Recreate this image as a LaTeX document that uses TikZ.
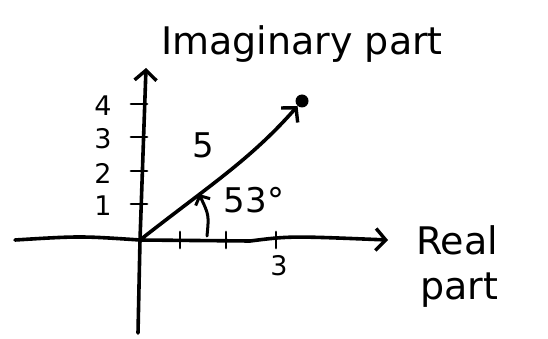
\documentclass[tikz,border=0pt]{standalone}
\usepackage{fontspec}
\setmainfont{DejaVu Sans}
\usetikzlibrary{arrows.meta}
\begin{document}
\begin{tikzpicture}[x=1pt,y=-1pt,
  ln/.style={line width=3.6pt,line cap=round,line join=round},
  barb/.style={-{Straight Barb[length=10pt,width=22pt,line width=3.4pt]}},
  lbl/.style={font=\fontsize{27}{29}\selectfont,inner sep=0pt},
  mid/.style={font=\fontsize{34}{36}\selectfont,inner sep=0pt},
  big/.style={font=\fontsize{38}{40}\selectfont,inner sep=0pt}]
\useasboundingbox (0,0) rectangle (548,339);
\coordinate (O) at (140,240);
\coordinate (xl) at (15,240);
\coordinate (xr) at (388,240);
\coordinate (yb) at (138,333);
\coordinate (yt) at (146,68);
\node[circle,fill=black,minimum size=13pt,inner sep=0pt] (P) at (302,101) {};
% axes
\draw[ln,barb] (xl) .. controls (80,236) .. (O) -- (250,241) .. controls (290,236) .. (xr);
\draw[ln,barb] (yb) -- (O) -- (yt);
% ticks y
\foreach \y/\t in {104/4,137/3,171/2,204/1}{
  \draw[ln,line width=2.8pt] (131,\y) -- (147,\y);
  \node[lbl] (ty\t) at (103,\y+2) {\t};
}
% ticks x
\foreach \x/\n in {180/a,226/b,276/c}{
  \draw[ln,line width=2.8pt] (\x,232) -- (\x,248);
}
\node[lbl] (tx3) at (279,266) {3};
% vector
\draw[ln,barb] (O) .. controls (210,185) and (250,160) .. (P);
% angle arrow
\draw[ln,line width=3pt,-{Straight Barb[length=7pt,width=16pt,line width=3pt]}] (207,236) .. controls (209,215) .. (199,194);
% labels
\node[mid] (five) at (203,145) {5};
\node[mid] (ang) at (254,200) {53°};
\node[big] (im) at (302,44) {Imaginary part};
\node[big] (re) at (457,240) {Real};
\node[big] (pa) at (459,290) {part};
\end{tikzpicture}
\end{document}
